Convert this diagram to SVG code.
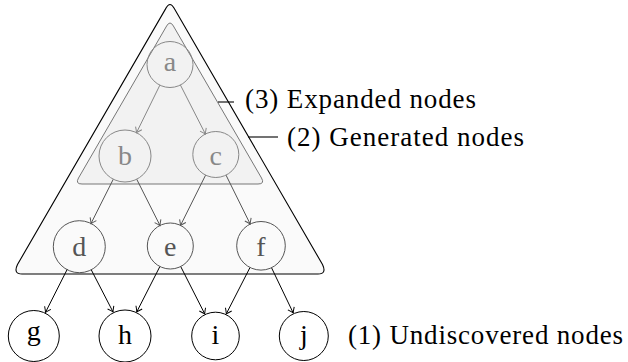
<svg xmlns="http://www.w3.org/2000/svg" width="628" height="362" viewBox="0 0 628 362">
<defs>
<marker id="ah-lg" markerWidth="12" markerHeight="12" refX="0" refY="0" viewBox="-6 -6 12 12" orient="auto" markerUnits="userSpaceOnUse" overflow="visible"><path d="M-5,-3.5 Q-1.5,-0.8 0,0 Q-1.5,0.8 -5,3.5" fill="none" stroke="#888" stroke-width="1"/></marker>
<marker id="ah-dg" markerWidth="12" markerHeight="12" refX="0" refY="0" viewBox="-6 -6 12 12" orient="auto" markerUnits="userSpaceOnUse" overflow="visible"><path d="M-5,-3.5 Q-1.5,-0.8 0,0 Q-1.5,0.8 -5,3.5" fill="none" stroke="#555" stroke-width="1"/></marker>
<marker id="ah-bk" markerWidth="12" markerHeight="12" refX="0" refY="0" viewBox="-6 -6 12 12" orient="auto" markerUnits="userSpaceOnUse" overflow="visible"><path d="M-5,-3.5 Q-1.5,-0.8 0,0 Q-1.5,0.8 -5,3.5" fill="none" stroke="#000" stroke-width="1"/></marker>
</defs>
<style>
text{font-family:"Liberation Serif","Times New Roman",Tinos,"DejaVu Serif",serif;}
.lbl{font-size:27px;fill:#000;}
.nt{font-size:28px;text-anchor:middle;}
.n1 circle{fill:none;stroke:#888;stroke-width:1;}
.n1 text{fill:#888;}
.n2 circle{fill:none;stroke:#555;stroke-width:1;}
.n2 text{fill:#555;}
.n3 circle{fill:#fff;stroke:#000;stroke-width:1;}
.n3 text{fill:#000;}
.e1{stroke:#888;stroke-width:1;fill:none;marker-end:url(#ah-lg);}
.e2{stroke:#555;stroke-width:1;fill:none;marker-end:url(#ah-dg);}
.e3{stroke:#000;stroke-width:1;fill:none;marker-end:url(#ah-bk);}
</style>
<rect width="628" height="362" fill="#fff"/>
<g id="generated">
<path d="M166,8.1 Q170,1 174,8.1 L322.5,264.5 Q327,274 318,274 L22,274 Q13,274 17.5,264.5 Z" fill="#fafafa" stroke="#000" stroke-width="1.1"/>
<line x1="248" y1="137" x2="278" y2="137" stroke="#000" stroke-width="1.1"/>
<text class="lbl" x="287" y="146" textLength="237" lengthAdjust="spacing">(2) Generated nodes</text>
</g>
<g id="expanded">
<path d="M166.6,26 Q170,20 173.4,26 L261.5,178 Q265,184 258,184 L82,184 Q75,184 78.5,178 Z" fill="#f2f2f2" stroke="#777" stroke-width="1"/>
<line x1="218" y1="102" x2="234" y2="102" stroke="#000" stroke-width="1.1"/>
<text class="lbl" x="245" y="108" textLength="231" lengthAdjust="spacing">(3) Expanded nodes</text>
</g>
<g id="connectors">
<line class="e1" x1="159.9" y1="85.1" x2="136.5" y2="132.7"/>
<line class="e1" x1="180.4" y1="85" x2="205.4" y2="134"/>
<line class="e2" x1="113.3" y1="179.2" x2="91" y2="223.5"/>
<line class="e2" x1="136.7" y1="179.2" x2="160" y2="225.5"/>
<line class="e2" x1="205.6" y1="175.1" x2="180.5" y2="225.4"/>
<line class="e2" x1="226" y1="175.1" x2="250.2" y2="224"/>
<line class="e3" x1="67.4" y1="269" x2="45.5" y2="312.3"/>
<line class="e3" x1="91.3" y1="269.9" x2="113" y2="311.9"/>
<line class="e3" x1="159.9" y1="266.5" x2="136.8" y2="311.8"/>
<line class="e3" x1="180.7" y1="266.5" x2="204.7" y2="313.8"/>
<line class="e3" x1="250" y1="267.5" x2="226.3" y2="313.8"/>
<line class="e3" x1="271.5" y1="267.7" x2="293.2" y2="312.9"/>
</g>
<g id="node-a" class="n1"><circle cx="170" cy="64.5" r="23"/><text class="nt" x="170" y="71">a</text></g>
<g id="node-b" class="n1"><circle cx="125" cy="156" r="26"/><text class="nt" x="125" y="165">b</text></g>
<g id="node-c" class="n1"><circle cx="215.8" cy="154.5" r="23"/><text class="nt" x="215.8" y="165">c</text></g>
<g id="node-d" class="n2"><circle cx="79.3" cy="246.7" r="26"/><text class="nt" x="79.3" y="256">d</text></g>
<g id="node-e" class="n2"><circle cx="170.3" cy="246" r="23"/><text class="nt" x="170.3" y="256">e</text></g>
<g id="node-f" class="n2"><circle cx="261" cy="245.8" r="24.3"/><text class="nt" x="261" y="256">f</text></g>
<g id="node-g" class="n3"><circle cx="33.8" cy="336" r="25.5"/><text class="nt" x="33.8" y="340">g</text></g>
<g id="node-h" class="n3"><circle cx="125" cy="336" r="26"/><text class="nt" x="125" y="344">h</text></g>
<g id="node-i" class="n3"><circle cx="215.5" cy="336" r="23.8"/><text class="nt" x="215.5" y="344">i</text></g>
<g id="node-j" class="n3"><circle cx="303.8" cy="336" r="24.5"/><text class="nt" x="303.8" y="344">j</text></g>
<g id="undiscovered-label"><text class="lbl" x="348" y="344" textLength="275" lengthAdjust="spacing">(1) Undiscovered nodes</text></g>
</svg>
